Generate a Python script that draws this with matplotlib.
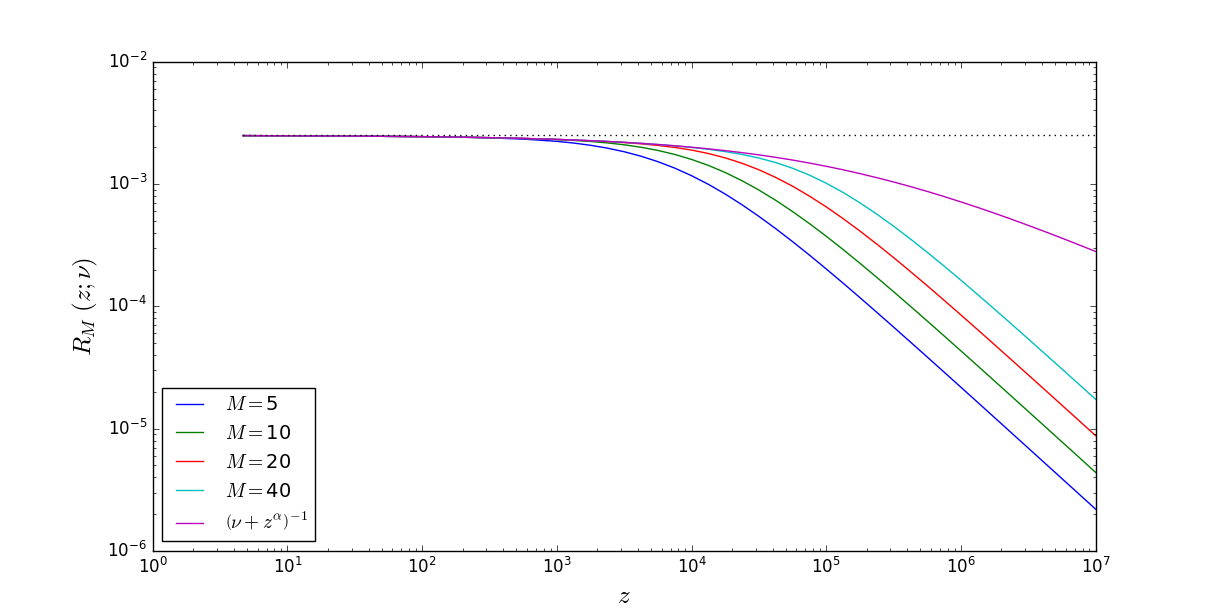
import matplotlib
matplotlib.use("Agg")
import matplotlib.pyplot as plt

plt.style.use("classic")

# z grid
z = [4.68, 10, 31.62, 100, 177.8, 316.2, 562.3, 1000, 1334, 1778, 2371, 3162, 4217, 5623,
     7499, 1.0e4, 1.334e4, 1.778e4, 2.371e4, 3.162e4, 4.217e4, 5.623e4, 7.499e4, 1.0e5,
     1.334e5, 1.778e5, 2.371e5, 3.162e5, 4.217e5, 5.623e5, 7.499e5, 1.0e6, 1.334e6,
     1.778e6, 2.371e6, 3.162e6, 4.217e6, 5.623e6, 7.499e6, 1.0e7]

R_M5 = [2.487e-3, 2.480e-3, 2.465e-3, 2.438e-3, 2.417e-3, 2.384e-3, 2.329e-3, 2.233e-3,
        2.162e-3, 2.073e-3, 1.965e-3, 1.836e-3, 1.688e-3, 1.524e-3, 1.349e-3, 1.170e-3,
        9.94e-4, 8.28e-4, 6.766e-4, 5.44e-4, 4.316e-4, 3.383e-4, 2.626e-4, 2.022e-4,
        1.548e-4, 1.179e-4, 8.945e-5, 6.769e-5, 5.110e-5, 3.852e-5, 2.900e-5, 2.181e-5,
        1.639e-5, 1.231e-5, 9.243e-6, 6.938e-6, 5.206e-6, 3.906e-6, 2.930e-6, 2.198e-6]
R_M10 = [2.487e-3, 2.480e-3, 2.465e-3, 2.439e-3, 2.419e-3, 2.393e-3, 2.357e-3, 2.307e-3,
         2.271e-3, 2.227e-3, 2.168e-3, 2.093e-3, 1.998e-3, 1.882e-3, 1.745e-3, 1.589e-3,
         1.419e-3, 1.242e-3, 1.064e-3, 8.93e-4, 7.359e-4, 5.958e-4, 4.751e-4, 3.742e-4,
         2.915e-4, 2.251e-4, 1.727e-4, 1.318e-4, 1.0016e-4, 7.587e-5, 5.733e-5, 4.324e-5,
         3.257e-5, 2.450e-5, 1.842e-5, 1.384e-5, 1.039e-5, 7.800e-6, 5.854e-6, 4.392e-6]
R_M20 = [2.487e-3, 2.480e-3, 2.465e-3, 2.439e-3, 2.419e-3, 2.393e-3, 2.360e-3, 2.316e-3,
         2.289e-3, 2.259e-3, 2.223e-3, 2.181e-3, 2.131e-3, 2.069e-3, 1.991e-3, 1.895e-3,
         1.776e-3, 1.636e-3, 1.478e-3, 1.308e-3, 1.132e-3, 9.597e-4, 7.972e-4, 6.502e-4,
         5.217e-4, 4.129e-4, 3.231e-4, 2.504e-4, 1.926e-4, 1.473e-4, 1.121e-4, 8.501e-5,
         6.429e-5, 4.852e-5, 3.657e-5, 2.752e-5, 2.070e-5, 1.555e-5, 1.168e-5, 8.769e-6]
R_M40 = [2.487e-3, 2.480e-3, 2.465e-3, 2.439e-3, 2.419e-3, 2.393e-3, 2.360e-3, 2.317e-3,
         2.291e-3, 2.261e-3, 2.228e-3, 2.191e-3, 2.149e-3, 2.103e-3, 2.050e-3, 1.990e-3,
         1.921e-3, 1.840e-3, 1.745e-3, 1.631e-3, 1.497e-3, 1.346e-3, 1.183e-3, 1.016e-3,
         8.533e-4, 7.024e-4, 5.680e-4, 4.522e-4, 3.555e-4, 2.766e-4, 2.134e-4, 1.635e-4,
         1.247e-4, 9.468e-5, 7.168e-5, 5.414e-5, 4.082e-5, 3.074e-5, 2.312e-5, 1.738e-5]
R_exact = [2.487e-3, 2.480e-3, 2.465e-3, 2.439e-3, 2.419e-3, 2.393e-3, 2.360e-3, 2.317e-3,
           2.291e-3, 2.261e-3, 2.229e-3, 2.192e-3, 2.151e-3, 2.105e-3, 2.055e-3, 2.000e-3,
           1.940e-3, 1.875e-3, 1.805e-3, 1.731e-3, 1.652e-3, 1.570e-3, 1.484e-3, 1.396e-3,
           1.307e-3, 1.217e-3, 1.127e-3, 1.039e-3, 9.53e-4, 8.70e-4, 7.90e-4, 7.14e-4,
           6.43e-4, 5.77e-4, 5.155e-4, 4.59e-4, 4.076e-4, 3.61e-4, 3.186e-4, 2.81e-4]

asymptote = 2.5e-3  # 1/nu

series = [R_M5, R_M10, R_M20, R_M40]
labels = [r"$M=$5", r"$M=$10", r"$M=$20", r"$M=$40"]
colors = ["b", "g", "r", "c"]

fig = plt.figure(figsize=(12.16, 6.12), facecolor="white")
ax = fig.add_axes([0.1256, 0.0997, 0.7754, 0.7995])

for vals, lab, col in zip(series, labels, colors):
    ax.loglog(z, vals, color=col, label=lab, lw=1)
ax.loglog(z, R_exact, color="m", label=r"$\left(\nu+z^{\alpha}\right)^{-1}$", lw=1)
ax.loglog([z[0], z[-1]], [asymptote, asymptote], "k:", lw=1)

ax.set_xlim(1, 1e7)
ax.set_ylim(1e-6, 1e-2)
ax.set_xlabel(r"$z$", fontsize=18)
ax.set_ylabel(r"$R_M\ (z;\nu)$", fontsize=18)
ax.legend(loc="lower left", fontsize=14)

fig.savefig("out.png", dpi=100, facecolor="white")
